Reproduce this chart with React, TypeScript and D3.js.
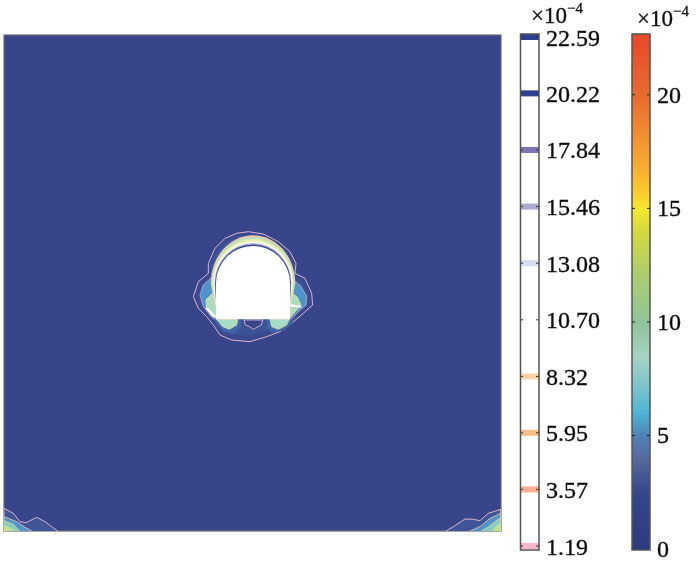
import React from "react";
import * as d3 from "d3";

type P = [number, number];

// Legend of contour levels
const levelValues = [22.59, 20.22, 17.84, 15.46, 13.08, 10.7, 8.32, 5.95, 3.57, 1.19];
const levelLabels = ["22.59", "20.22", "17.84", "15.46", "13.08", "10.70", "8.32", "5.95", "3.57", "1.19"];
const levelColors = ["#2f3f92", "#2f3f92", "#7f76b8", "#aeaad6", "#d6dbee", "none", "#fdd3a6", "#fbbd88", "#f9ad92", "#f7b6cc"];

// Continuous colour bar
const barTicks = [0, 5, 10, 15, 20];
const barStops: [number, string][] = [
  [0, "#2c3a82"], [2.5, "#34468e"], [4, "#56699f"], [5, "#4f80b6"], [6, "#4db3d6"], [7.2, "#7cc4cc"],
  [8.5, "#a6d3c4"], [10, "#8fc49a"], [12, "#a9cd70"], [14, "#d5d83f"], [15, "#f6e92e"], [15.6, "#fdd02e"],
  [17, "#f9a830"], [20, "#e96a2f"], [22.7, "#e8472a"],
];

// Contours round the opening, read in crop units
const outerContour: P[] = [[235,65],[280,72],[325,95],[360,125],[378,160],[375,190],[405,205],[425,250],[428,285],[400,310],[365,340],[330,365],[290,380],[240,395],[185,390],[150,375],[130,345],[110,320],[85,295],[70,260],[85,215],[115,190],[115,160],[135,115],[165,85],[200,70]];
const innerContour: P[] = [[240,78],[285,84],[325,108],[352,135],[372,170],[362,200],[396,215],[414,255],[414,285],[390,305],[360,330],[330,352],[290,362],[240,378],[190,375],[155,360],[138,335],[120,312],[98,290],[84,258],[96,222],[122,198],[122,160],[142,120],[170,94],[205,80]];
const leftLobe: P[] = [[122,205],[100,225],[90,255],[100,290],[122,318],[140,335],[140,205]];
const rightLobe: P[] = [[362,205],[390,225],[410,258],[408,285],[385,305],[360,332]];
const leftLobeCore: P[] = [[128,250],[108,270],[110,295],[125,318],[140,325],[140,245]];
const rightLobeCore: P[] = [[362,245],[382,262],[392,285],[378,302],[360,322]];
const leftStreak: P[] = [[106,296],[132,322],[138,318],[112,292]];
const rightStreak: P[] = [[362,282],[395,288],[394,293],[362,290]];
const leftFloor: P[] = [[130,328],[212,328],[212,352],[190,372],[160,365],[145,348]];
const rightFloor: P[] = [[290,328],[368,328],[368,340],[340,362],[305,368],[290,350]];
const leftFloorCore: P[] = [[140,328],[203,328],[200,345],[178,358],[158,350]];
const rightFloorCore: P[] = [[300,328],[358,328],[350,345],[325,358],[305,350]];
const floorNotch: P[] = [[222,330],[226,345],[238,350],[250,358],[264,350],[274,345],[278,330]];
const openingSide: P[] = [[138,328],[138,219]];
const openingOther: P[] = [[360,219],[360,328]];
const openingCentre: P = [249, 219];
const openingRadius = 111;
// top width, side width, colour of the bands that hug the arch
const bandTop = [32, 27, 21, 14, 8, 4];
const bandSide = [16, 14, 11, 8, 4, 2];
const bandColors = ["#e8c8b0", "#bfe0b8", "#e6efb0", "#fbfbe8", "#a09cd0", "#2f3f92"];

// Corner contours
const leftCornerA: P[] = [[12,55],[40,70],[60,95],[78,98],[110,82],[135,95],[155,110],[175,125],[12,125]];
const leftCornerB: P[] = [[12,80],[50,95],[75,112],[100,125],[12,125]];
const leftCornerC: P[] = [[12,92],[40,102],[62,125],[12,125]];
const leftCornerD: P[] = [[12,105],[30,112],[48,125],[12,125]];
const leftCornerE: P[] = [[12,115],[24,125],[12,125]];
const rightCornerA: P[] = [[45,125],[70,110],[105,87],[130,88],[150,92],[175,70],[212,58],[212,125]];
const rightCornerB: P[] = [[115,125],[150,110],[180,85],[212,70],[212,125]];
const rightCornerC: P[] = [[150,125],[175,110],[212,82],[212,125]];
const rightCornerD: P[] = [[185,125],[198,108],[212,98],[212,125]];
const rightCornerE: P[] = [[204,125],[212,112],[212,125]];

const zx = d3.scaleLinear().domain([0, 510]).range([170, 340]);
const zy = d3.scaleLinear().domain([0, 450]).range([210, 360]);
const lx = d3.scaleLinear().domain([0, 210]).range([0, 70]);
const ly = d3.scaleLinear().domain([0, 150]).range([490, 540]);
const rx = d3.scaleLinear().domain([0, 240]).range([430, 510]);
const ry = d3.scaleLinear().domain([0, 150]).range([490, 540]);
const levelY = d3.scaleLinear().domain([1.19, 22.59]).range([546, 37]);
const barY = d3.scaleLinear().domain([0, 22.59]).range([549, 36]);

const closedPath = (x: any, y: any) =>
  d3.line<P>().x((d) => x(d[0])).y((d) => y(d[1])).curve(d3.curveLinearClosed);
const zoomPath = closedPath(zx, zy);
const leftPath = closedPath(lx, ly);
const rightPath = closedPath(rx, ry);

const openingArch = () => {
  const p = d3.path();
  const [a, b] = openingSide;
  p.moveTo(zx(a[0]), zy(a[1]));
  p.lineTo(zx(b[0]), zy(b[1]));
  p.arc(zx(openingCentre[0]), zy(openingCentre[1]), openingRadius / 3, Math.PI, 0);
  p.lineTo(zx(openingOther[1][0]), zy(openingOther[1][1]));
  return p.toString();
};

const bandPath = (top: number, side: number) => {
  const [cx, cy] = openingCentre;
  const rw = (openingRadius + side) / 3;
  const rh = (openingRadius + top) / 3;
  const l = zx(cx - openingRadius - side);
  const r = zx(cx + openingRadius + side);
  const y = zy(cy);
  const bottom = zy(cy + 2.4 * side + 50);
  return `M${zx(cx - openingRadius)},${bottom}L${l},${y}A${rw},${rh} 0 0 1 ${r},${y}L${zx(cx + openingRadius)},${bottom}Z`;
};

const serif = "'Liberation Serif', serif";

export default function App() {
  const frame = { x: 4, y: 35, w: 497, h: 496 };
  return (
    <svg width={700} height={564} style={{ position: "absolute", left: 0, top: 0, background: "#fff" }}>
      <defs>
        <filter id="soft" x="-5%" y="-5%" width="110%" height="110%"><feGaussianBlur stdDeviation="0.55" /></filter>
        <filter id="softer" x="-5%" y="-5%" width="110%" height="110%"><feGaussianBlur stdDeviation="0.35" /></filter>
        <clipPath id="plot"><rect x={frame.x} y={frame.y} width={frame.w} height={frame.h} /></clipPath>
        <linearGradient id="bar" x1="0" y1="1" x2="0" y2="0">
          {barStops.map(([v, c]) => (
            <stop key={v} offset={`${(v / 22.7) * 100}%`} stopColor={c} />
          ))}
        </linearGradient>
      </defs>

      <g filter="url(#softer)">
        <rect x={frame.x} y={frame.y} width={frame.w} height={frame.h} fill="#37448a" stroke="#6a6a70" strokeWidth={1.2} />
      </g>

      <g clipPath="url(#plot)">
        <g filter="url(#soft)">
          <path d={zoomPath(outerContour)!} fill="#3a4a90" stroke="#ecc0d6" strokeWidth={0.9} />
          <path d={zoomPath(innerContour)!} fill="#3d5298" />
          <path d={zoomPath(leftLobe)!} fill="#4f93c8" stroke="#d8c0cc" strokeWidth={0.6} />
          <path d={zoomPath(rightLobe)!} fill="#4f93c8" stroke="#d8c0cc" strokeWidth={0.6} />
          <path d={zoomPath(leftLobeCore)!} fill="#a9dcc0" stroke="#f3e79a" strokeWidth={0.9} />
          <path d={zoomPath(rightLobeCore)!} fill="#a9dcc0" stroke="#f3e79a" strokeWidth={0.9} />
          <path d={zoomPath(leftFloor)!} fill="#3f66a8" />
          <path d={zoomPath(rightFloor)!} fill="#3f66a8" />
          <path d={zoomPath(leftFloorCore)!} fill="#a6dcc4" stroke="#e9e0a8" strokeWidth={0.7} />
          <path d={zoomPath(rightFloorCore)!} fill="#a6dcc4" stroke="#e9e0a8" strokeWidth={0.7} />
          <path d={zoomPath(floorNotch)!} fill="#37448a" stroke="#ecc0d6" strokeWidth={0.8} />
          {bandTop.map((t, i) => (
            <path key={t} d={bandPath(t, bandSide[i])} fill={bandColors[i]} />
          ))}
          <path d={zoomPath(leftStreak)!} fill="#fff" />
          <path d={zoomPath(rightStreak)!} fill="#fff" />
        </g>
        <path d={openingArch() + "Z"} fill="#fff" />
        <line x1={zx(138)} x2={zx(138)} y1={zy(219)} y2={zy(328)} stroke="#3d5a52" strokeWidth={0.8} filter="url(#softer)" />
        <line x1={zx(360)} x2={zx(360)} y1={zy(219)} y2={zy(328)} stroke="#3d5a52" strokeWidth={0.8} filter="url(#softer)" />
        <line x1={zx(138)} x2={zx(360)} y1={zy(328)} y2={zy(328)} stroke="#26352e" strokeWidth={1.2} strokeDasharray="7 3" filter="url(#softer)" />

        <g filter="url(#soft)">
          <path d={leftPath(leftCornerA)!} fill="#3f5597" stroke="#ecc0d6" strokeWidth={0.9} />
          <path d={leftPath(leftCornerB)!} fill="#4f93c8" stroke="#ecc8b8" strokeWidth={0.8} />
          <path d={leftPath(leftCornerC)!} fill="#86cdbf" stroke="#f0d7a0" strokeWidth={0.6} />
          <path d={leftPath(leftCornerD)!} fill="#bfe09a" />
          <path d={leftPath(leftCornerE)!} fill="#f3ea50" />
          <path d={rightPath(rightCornerA)!} fill="#3f5597" stroke="#ecc0d6" strokeWidth={0.9} />
          <path d={rightPath(rightCornerB)!} fill="#4f93c8" stroke="#ecc8b8" strokeWidth={0.8} />
          <path d={rightPath(rightCornerC)!} fill="#86cdbf" stroke="#f0d7a0" strokeWidth={0.6} />
          <path d={rightPath(rightCornerD)!} fill="#bfe09a" />
          <path d={rightPath(rightCornerE)!} fill="#f3ea50" />
        </g>
      </g>

      <g filter="url(#softer)" fontFamily={serif} fill="#111" stroke="#111" strokeWidth={0.35}>
        {/* contour level legend */}
        <rect x={520.5} y={34} width={18.5} height={516} fill="#fff" stroke="none" />
        {levelValues.map((v, i) => (
          <g key={v}>
            {levelColors[i] !== "none" && (
              <rect x={521} y={levelY(v) - 3} width={18} height={6} fill={levelColors[i]} stroke="none" />
            )}
            <line x1={520} x2={523} y1={levelY(v)} y2={levelY(v)} stroke="#333" strokeWidth={1} />
            <line x1={536} x2={539} y1={levelY(v)} y2={levelY(v)} stroke="#333" strokeWidth={1} />
            <text x={546} y={levelY(v) + 8.5} fontSize={24}>{levelLabels[i]}</text>
          </g>
        ))}
        <rect x={520.5} y={34} width={18.5} height={516} fill="none" stroke="#55554f" strokeWidth={1.5} />
        <text x={531} y={23} fontSize={23}>
          ×10<tspan dy={-10} fontSize={15}>−4</tspan>
        </text>

        {/* continuous colour bar */}
        <rect x={632} y={34} width={18} height={516} fill="url(#bar)" stroke="#55554f" strokeWidth={1.5} />
        {barTicks.map((t) => (
          <g key={t}>
            {t > 0 && <line x1={632} x2={635} y1={barY(t)} y2={barY(t)} stroke="#222" strokeWidth={1} />}
            {t > 0 && <line x1={647} x2={650} y1={barY(t)} y2={barY(t)} stroke="#222" strokeWidth={1} />}
            <text x={657} y={barY(t) + 8} fontSize={24}>{t}</text>
          </g>
        ))}
        <text x={637} y={26} fontSize={23}>
          ×10<tspan dy={-10} fontSize={15}>−4</tspan>
        </text>
      </g>
    </svg>
  );
}
